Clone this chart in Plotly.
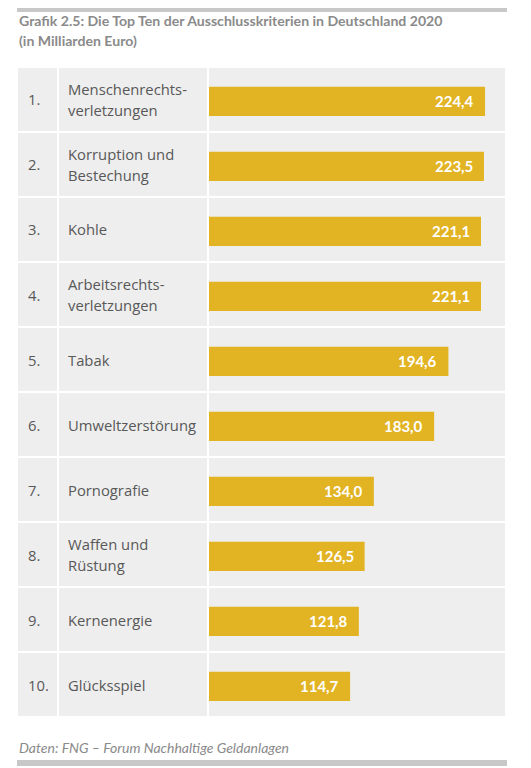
import plotly.graph_objects as go

# Daten: Top Ten der Ausschlusskriterien 2020 (Mrd. Euro)
rang = ["1.", "2.", "3.", "4.", "5.", "6.", "7.", "8.", "9.", "10."]
kriterien = [
    "Menschenrechts-<br>verletzungen",
    "Korruption und<br>Bestechung",
    "Kohle",
    "Arbeitsrechts-<br>verletzungen",
    "Tabak",
    "Umweltzerstörung",
    "Pornografie",
    "Waffen und<br>Rüstung",
    "Kernenergie",
    "Glücksspiel",
]
werte = [224.4, 223.5, 221.1, 221.1, 194.6, 183.0, 134.0, 126.5, 121.8, 114.7]

# die Seite hat 8px Rand (body margin), daher Figur kleiner und Koordinaten verschoben
RAND = 8
W, H = 531 - RAND, 768 - RAND
GELB = "#e2b322"
ZELLE = "#eeeeee"
TEXT = "#585858"
GRAU = "#8a8a8a"
SCHRIFT = "Open Sans"

def px(x):  # Seitenpixel -> paper x
    return (x - RAND) / W

def py(y):  # Seitenpixel -> paper y
    return 1 - (y - RAND) / H

pos = list(range(len(werte)))

fig = go.Figure(go.Bar(
    x=werte, y=pos, orientation="h",
    marker=dict(color=GELB, line=dict(width=0)),
    width=0.45, offset=-0.195,
    hoverinfo="skip",
))

# Tabellenzellen (grau, weisse Fugen)
spalten = [(18, 57), (59, 207), (209, 505)]
for i in pos:
    for x0, x1 in spalten:
        fig.add_shape(type="rect", xref="paper", yref="y",
                      x0=px(x0), x1=px(x1), y0=i - 0.5 + 0.016, y1=i + 0.5 - 0.016,
                      fillcolor=ZELLE, line=dict(width=0), layer="below")

# Rang, Bezeichnung und Wert
for i in pos:
    fig.add_annotation(x=px(26), y=i, xref="paper", yref="y", text=rang[i],
                       showarrow=False, xanchor="left", yanchor="middle",
                       font=dict(family=SCHRIFT, size=14.8, color=TEXT))
    zeilen = kriterien[i].split("<br>")
    for k, z in enumerate(zeilen):
        verschiebung = 0 if len(zeilen) == 1 else (10.8 if k == 0 else -10.8)
        fig.add_annotation(x=px(66), y=i, xref="paper", yref="y", text=z,
                           showarrow=False, xanchor="left", yanchor="middle", yshift=verschiebung,
                           font=dict(family=SCHRIFT, size=14.8, color=TEXT))
    fig.add_annotation(x=werte[i], y=i, xref="x", yref="y",
                       text=f"{werte[i]:.1f}".replace(".", ","),
                       showarrow=False, xanchor="right", yanchor="middle", xshift=-9, yshift=-1.5,
                       font=dict(family="Lato", size=15, color="white", weight="bold"))

# Titel
fig.add_annotation(x=px(17), y=py(21), xref="paper", yref="paper",
                   text="Grafik 2.5: Die Top Ten der Ausschlusskriterien in Deutschland 2020",
                   showarrow=False, xanchor="left", yanchor="middle",
                   font=dict(family="Lato", size=14.1, color=GRAU, weight="bold"))
fig.add_annotation(x=px(17), y=py(40), xref="paper", yref="paper",
                   text="(in Milliarden Euro)",
                   showarrow=False, xanchor="left", yanchor="middle",
                   font=dict(family="Lato", size=14.1, color=GRAU, weight="bold"))

# Quelle
fig.add_annotation(x=px(17), y=py(747), xref="paper", yref="paper",
                   text="Daten: FNG – Forum Nachhaltige Geldanlagen",
                   showarrow=False, xanchor="left", yanchor="middle",
                   font=dict(family="Lato", size=14, color=GRAU, style="italic"))

# graue Balken oben und unten
for y0, y1 in [(8, 12), (760, 766)]:
    fig.add_shape(type="rect", xref="paper", yref="paper",
                  x0=px(17), x1=px(507), y0=py(y1), y1=py(y0),
                  fillcolor="#c8c8c8", line=dict(width=0))

fig.update_layout(
    width=W, height=H,
    margin=dict(l=0, r=0, t=0, b=0),
    paper_bgcolor="white", plot_bgcolor="rgba(0,0,0,0)",
    showlegend=False,
    xaxis=dict(domain=[px(209), px(505)], range=[0, 240.6], visible=False, fixedrange=True),
    yaxis=dict(domain=[py(717), py(67)], range=[9.5, -0.5], visible=False, fixedrange=True),
)

fig.write_html("out.html")
